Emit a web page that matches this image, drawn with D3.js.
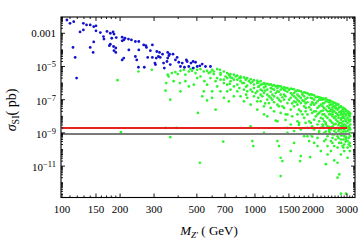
<!DOCTYPE html>
<html>
<head>
<meta charset="utf-8">
<script src="https://cdn.jsdelivr.net/npm/d3@7"></script>
<style>
body { margin: 0; background: #fff; }
svg { display: block; font-family: "Liberation Serif", "DejaVu Serif", serif; }
</style>
</head>
<body>
<script>
// [M_Z' (GeV), sigma_SI (pb)]
var bluePoints = [
	[106,6.3e-3],[110,4e-3],[115,5e-3],[129,4e-3],[134,3.2e-3],[140,3.2e-3],[146,2.5e-3],[150,2.8e-3],
	[129,1.6e-3],[124,1.2e-3],[150,1.4e-3],[158,1.1e-3],[171,1.3e-3],[178,1e-3],[186,9e-4],[184,1.2e-3],
	[164,6.3e-4],[165,4.5e-4],[181,5e-4],[191,5.5e-4],[205,5.8e-4],[209,4e-4],[212,5e-4],[221,4.5e-4],
	[205,3.5e-4],[178,2.2e-4],[176,1.8e-4],[185,1.6e-4],[190,1.3e-4],[186,9e-5],[146,3e-4],[140,1.4e-4],
	[145,7e-5],[114,1.4e-4],[117,3.5e-5],[119,2e-6],[222,1e-4],[240,3.2e-4],[250,3.2e-4],[272,1.8e-4],
	[274,1.4e-4],[294,2e-4],[310,8e-5],[320,7e-5],[332,5.5e-5],[353,7e-5],[361,5.5e-5],[250,1e-4],
	[240,4e-5],[244,2.5e-5],[249,9e-6],[267,9e-6],[278,3.5e-5],[294,3.5e-5],[303,1.6e-5],[305,1.3e-5],
	[308,3.2e-5],[323,3.5e-5],[336,1.6e-5],[339,8e-6],[353,3.2e-5],[358,4.5e-5],[376,5.5e-5],[364,1.3e-5],
	[387,2.5e-5],[395,3.5e-5],[403,1.8e-5],[411,1e-5],[431,9e-6],[445,2e-5],[441,2.5e-5],[466,1.6e-5],
	[478,2e-5],[492,1.8e-5],[478,8e-6],[502,1e-5],[518,1.1e-5],[533,1.4e-5],[554,1e-5],[588,1e-5],
	[209,3.2e-5],[205,2.5e-5],[190,7e-5],[229,4e-4],[265,2e-4],[287,9e-5],[316,4e-5],[350,2e-5],
	[420,1.6e-5],[454,1e-5]
];

var greenPoints = [
	[194,1.5e-6],[202,1.1e-9],[249,5e-6],[292,6.3e-6],[344,3.5e-7],[364,1e-7],[364,5.5e-10],[344,2e-9],
	[392,2e-9],[347,1e-6],[357,2.5e-6],[379,1.3e-6],[408,1e-6],[411,3.2e-7],[398,3.5e-6],[436,3.2e-6],
	[463,7e-6],[482,8e-6],[492,4e-6],[502,2e-6],[482,8e-7],[506,1.6e-8],[518,1.6e-11],[533,1.6e-7],
	[543,3.2e-7],[565,9e-8],[547,1.3e-6],[576,4e-6],[588,2e-6],[600,6.3e-6],[612,5e-6],[637,7e-6],
	[658,6.3e-6],[663,4e-6],[625,1.3e-6],[637,6.3e-7],[625,2.5e-8],[685,3e-10],[690,1.6e-6],[704,2.5e-6],
	[718,4e-6],[732,3.2e-6],[747,1.3e-6],[762,2e-6],[778,6.3e-7],[794,2.5e-6],[810,1.6e-6],[778,1.6e-7],
	[732,8e-8],[842,2e-6],[860,1e-6],[877,4e-7],[895,1.6e-6],[912,3.2e-7],[930,1.3e-6],[950,2.5e-9],
	[969,3.2e-10],[980,1.6e-10],[988,8e-7],[1008,2.5e-7],[1028,1e-6],[1049,6.3e-7],[1070,8e-7],[1070,8e-8],
	[1092,1.6e-7],[1114,1.3e-8],[1114,1e-9],[1136,6.3e-7],[1159,4e-7],[1183,6.3e-8],[1207,5e-7],[1231,2e-7],
	[1256,2e-8],[1281,5.5e-9],[1307,3.2e-10],[1333,1.6e-10],[1359,3.2e-11],[1387,2e-11],[1359,2.5e-12],[1256,4e-7],
	[1307,3.2e-7],[1333,1e-7],[1359,2e-7],[1387,4e-8],[1415,4e-7],[1444,1.3e-8],[1473,1e-9],[1533,8e-11],
	[1595,2.5e-10],[1595,2.5e-7],[1627,1.3e-7],[1660,1.3e-8],[1694,4e-9],[1714,2e-11],[1728,4e-11],[1763,2e-7],
	[1799,8e-8],[1835,3.2e-8],[1872,6.3e-10],[1910,3.2e-10],[1933,3.5e-11],[1948,1.3e-7],[1987,6.3e-8],[2027,2e-8],
	[2068,1e-8],[2110,1.6e-10],[2152,1.3e-9],[2195,1e-7],[2240,4e-8],[2285,1.3e-8],[2331,3.2e-9],[2378,8e-8],
	[2378,5e-11],[2426,1.6e-9],[2475,5e-8],[2525,1.3e-8],[2575,8e-10],[2627,3.2e-8],[2680,1.6e-11],[2734,3.2e-12],
	[2789,2e-8],[2846,8e-9],[2903,3.2e-9],[2962,4e-10],[3021,1.6e-8],[3045,2e-9],[3082,8e-10],[3021,3.2e-11],
	[2789,2.2e-13],[2962,2.2e-13],[2680,2e-12],[2575,2.2e-11],[2331,1.3e-11],
	// dense band under the upper edge
	[663,3.2e-6],[663,1.6e-6],[690,5e-6],[690,1e-6],[718,2e-6],[718,8e-7],[747,3.5e-6],[747,2.2e-6],
	[747,4e-7],[778,3.2e-6],[778,1.6e-6],[810,2.8e-6],[810,8e-7],[810,3.2e-7],[842,2.5e-6],[842,1.3e-6],
	[842,1.6e-7],[877,2.2e-6],[877,1e-6],[877,8e-8],[912,2e-6],[912,7e-7],[912,1.3e-7],[950,1.7e-6],
	[950,1e-6],[950,4e-7],[950,5e-8],[988,1.5e-6],[988,5e-7],[988,1.6e-7],[1028,1.4e-6],[1028,3.2e-7],
	[1028,8e-8],[1028,2.5e-8],[1070,1.3e-6],[1070,4e-7],[1070,2e-7],[1114,1e-6],[1114,5.5e-7],[1114,2.5e-7],
	[1114,4e-8],[1159,9e-7],[1159,2e-7],[1159,1e-7],[1159,1e-8],[1207,8.5e-7],[1207,3e-7],[1207,1.3e-7],
	[1207,3.2e-8],[1256,7.5e-7],[1256,1.6e-7],[1256,7e-8],[1307,6.8e-7],[1307,5e-7],[1307,1.3e-7],[1307,5e-8],
	[1307,5e-9],[1359,6.3e-7],[1359,4e-7],[1359,8e-8],[1359,1.6e-8],[1415,5.5e-7],[1415,2e-7],[1415,1e-7],
	[1415,3.2e-8],[1473,5e-7],[1473,3e-7],[1473,6.3e-8],[1473,1.3e-8],[1473,2e-9],[1533,4.6e-7],[1533,2.5e-7],
	[1533,1.3e-7],[1533,2.5e-8],[1533,3.2e-9],[1595,4.2e-7],[1595,1.6e-7],[1595,8e-8],[1595,4e-8],[1595,1.3e-9],
	[1660,3.6e-7],[1660,2e-7],[1660,1e-7],[1660,5e-8],[1660,5e-9],[1728,3.2e-7],[1728,1.3e-7],[1728,6.3e-8],
	[1728,2e-8],[1728,1.6e-9],[1799,2.8e-7],[1799,1.6e-7],[1799,4e-8],[1799,8e-9],[1799,6.3e-10],[1872,2.4e-7],
	[1872,1.3e-7],[1872,7e-8],[1872,1.3e-8],[1872,2e-9],[1948,2.1e-7],[1948,5e-8],[1948,2.5e-8],[1948,4e-9],
	[1948,8e-10],[2027,1.8e-7],[2027,1e-7],[2027,5e-8],[2027,6.3e-9],[2027,1.6e-9],[2027,2.5e-10],[2110,1.5e-7],
	[2110,8e-8],[2110,3.2e-8],[2110,1.3e-8],[2110,3.2e-9],[2110,5e-10],[2195,1.3e-7],[2195,5e-8],[2195,2e-8],
	[2195,8e-9],[2195,2e-9],[2195,8e-11],[2285,1.1e-7],[2285,6.3e-8],[2285,3.2e-8],[2285,5e-9],[2285,1e-9],
	[2285,3.2e-10],[2378,9.5e-8],[2378,4e-8],[2378,2e-8],[2378,8e-9],[2378,2.5e-9],[2378,6.3e-10],[2378,1.6e-10],
	[2475,8e-8],[2475,2.5e-8],[2475,1.3e-8],[2475,5e-9],[2475,1.6e-9],[2475,3.2e-10],[2475,8e-11],[2575,6.6e-8],
	[2575,4e-8],[2575,2e-8],[2575,8e-9],[2575,3.2e-9],[2575,1.3e-9],[2575,1.6e-10],[2680,5.2e-8],[2680,2.5e-8],
	[2680,1.3e-8],[2680,5e-9],[2680,2e-9],[2680,6.3e-10],[2680,1.3e-10],[2789,4e-8],[2789,1.3e-8],[2789,6.3e-9],
	[2789,2.5e-9],[2789,1e-9],[2789,4e-10],[2789,5e-11],[2903,2.9e-8],[2903,1.6e-8],[2903,8e-9],[2903,1.6e-9],
	[2903,6.3e-10],[2903,2e-10],[2903,8e-11],[3021,2e-8],[3021,8e-9],[3021,4e-9],[3021,1.3e-9],[3021,3.2e-10],
	[3021,1.3e-10],[3100,1.6e-8],[3100,1e-8],[3100,5e-9],[3100,2e-9],[3100,1e-9],[3100,2.5e-10],[3100,8e-11],
	[1092,8.5e-7],[1092,3.5e-7],[1183,8e-7],[1183,1.6e-7],[1281,6.3e-7],[1281,2.5e-7],[1387,5e-7],[1387,1.4e-7],
	[1503,4e-7],[1503,1e-7],[1627,3.2e-7],[1627,7e-8],[1763,2.5e-7],[1763,9e-8],[1763,1.3e-8],[1910,2e-7],
	[1910,3.5e-8],[1910,5e-9],[2068,1.4e-7],[2068,6.3e-8],[2068,2e-8],[2240,1e-7],[2240,1.3e-8],[2240,3.2e-9],
	[2426,7e-8],[2426,3.2e-8],[2426,1.3e-8],[2426,1.3e-9],[2525,5.2e-8],[2525,2.5e-8],[2525,2.5e-9],[2525,5e-10],
	[2627,4.4e-8],[2627,1.6e-8],[2627,6.3e-9],[2627,1e-9],[2734,3.5e-8],[2734,1.8e-8],[2734,4e-9],[2734,1.6e-9],
	[2734,2.5e-10],[2846,2.5e-8],[2846,1.3e-8],[2846,3.2e-9],[2846,8e-10],[2846,1.6e-10],[2962,2.1e-8],[2962,1.1e-8],
	[2962,5e-9],[2962,2.2e-9],[2962,5e-10],[3120,1.4e-8],[3120,6.3e-9],[3120,3.2e-9],[3120,1.6e-9],[3120,6.3e-10],
	[3120,1.6e-10],
	[740,2.8e-6],[740,9e-7],[830,2e-6],[830,5e-7],[900,1.8e-6],[900,6e-7],[900,2e-7],[970,1.2e-6],
	[970,3e-7],[1040,1.1e-6],[1040,6e-7],[1040,1.3e-7],[1130,9e-7],[1130,3.5e-7],[1130,6e-8],[1230,7e-7],
	[1230,4.5e-7],[1230,1e-7],[1330,6.5e-7],[1330,3e-7],[1330,4e-8],[1440,5.2e-7],[1440,3.5e-7],[1440,1.6e-7],
	[1440,6e-9],[1560,4.4e-7],[1560,2e-7],[1560,6e-8],[1560,1e-8],[1690,3.4e-7],[1690,1.6e-7],[1690,8e-8],
	[1690,2.5e-8],[1690,3e-9],[1830,2.6e-7],[1830,1.1e-7],[1830,6e-8],[1830,2e-8],[1830,4e-9],[1980,2e-7],
	[1980,1.2e-7],[1980,7e-8],[1980,1.6e-8],[1980,2.5e-9],[1980,6e-10],[2150,1.4e-7],[2150,1e-7],[2150,4e-8],
	[2150,1.6e-8],[2150,5e-9],[2150,1e-9],[2330,1.2e-7],[2330,8e-8],[2330,2.5e-8],[2330,1e-8],[2330,4e-9],
	[2330,1.2e-9],[2330,4e-10],[2520,7.5e-8],[2520,3.5e-8],[2520,1.8e-8],[2520,1e-8],[2520,4e-9],[2520,2e-9],
	[2520,8e-10],[2520,2.5e-10],[2710,5e-8],[2710,3e-8],[2710,1.1e-8],[2710,8e-9],[2710,3e-9],[2710,1.3e-9],
	[2710,5e-10],[2870,3.2e-8],[2870,2e-8],[2870,1e-8],[2870,5e-9],[2870,2.5e-9],[2870,1.2e-9],[2870,4e-10],
	[2870,1.3e-10],[3060,1.8e-8],[3060,1.2e-8],[3060,6e-9],[3060,2.5e-9],[3060,1.6e-9],[3060,5e-10],[3060,2e-10],
	[2440,9e-8],[2440,5e-8],[2440,2e-8],[2440,6e-9],[2440,2.2e-9],[2440,1e-9],[2620,6e-8],[2620,3e-8],
	[2620,1e-8],[2620,3.5e-9],[2620,1.8e-9],[2620,4e-10],[2800,3.5e-8],[2800,1.6e-8],[2800,8e-9],[2800,4e-9],
	[2800,1.6e-9],[2800,7e-10],[2800,2.5e-10],[2950,2.5e-8],[2950,1.3e-8],[2950,6.3e-9],[2950,3e-9],[2950,1.2e-9],
	[2950,6e-10],[2950,3e-10],[2250,1.2e-7],[2250,6e-8],[2250,2.2e-8],[2250,7e-9],[2250,2.5e-9],
	// green points just under the blue ones
	[353,3.2e-6],[371,4e-6],[387,4.6e-6],[411,5.5e-6],[428,6.3e-6],[454,5e-6],[472,5.5e-6],[502,6.3e-6],
	[522,7e-6],[543,5e-6],[565,5.5e-6],[588,4.6e-6],[612,3.5e-6],[436,1.3e-6],[454,6.3e-7],[522,2.5e-6],
	[565,8e-7],[600,3.2e-7],[637,2e-6],[663,3.2e-7],[690,1.3e-7],[718,3.2e-7],[600,1.3e-7]
];

var redLimit = 2e-9;
var grayLimit = 8.7e-10;
var limitRange = [100, 3000];

var xTicks = [100, 150, 200, 300, 500, 700, 1000, 1500, 2000, 3000];
var yTicks = [1e-3, 1e-5, 1e-7, 1e-9, 1e-11];
var yTickLabels = [["0.001", ""], ["10", "\u22125"], ["10", "\u22127"], ["10", "\u22129"], ["10", "\u221211"]];

var W = 360, H = 241;
// plot frame (window.top is taken, so prefix these)
var pLeft = 61, pRight = 355, pTop = 17, pBottom = 197.5;

var svg = d3.select("body").append("svg")
	.attr("width", W)
	.attr("height", H);

var x = d3.scaleLog().domain([98.8, 3300]).range([pLeft, pRight]);
var y = d3.scaleLog().domain([Math.pow(10, -12.89), Math.pow(10, -2.02)]).range([pBottom, pTop]);

// points
var plot = svg.append("g");
plot.selectAll("circle.g")
	.data(greenPoints)
	.enter().append("circle")
	.attr("class", "g")
	.attr("cx", function(d) { return x(d[0]); })
	.attr("cy", function(d) { return y(d[1]); })
	.attr("r", 1.35)
	.attr("fill", "#2ef52e");

plot.selectAll("circle.b")
	.data(bluePoints)
	.enter().append("circle")
	.attr("class", "b")
	.attr("cx", function(d) { return x(d[0]); })
	.attr("cy", function(d) { return y(d[1]); })
	.attr("r", 1.4)
	.attr("fill", "#1212cc");

// limit lines
svg.append("line")
	.attr("x1", x(limitRange[0])).attr("x2", x(limitRange[1]) + 3)
	.attr("y1", y(grayLimit)).attr("y2", y(grayLimit))
	.attr("stroke", "#7a7a7a").attr("stroke-width", 2);
svg.append("line")
	.attr("x1", x(limitRange[0])).attr("x2", x(limitRange[1]))
	.attr("y1", y(redLimit)).attr("y2", y(redLimit))
	.attr("stroke", "#e8201e").attr("stroke-width", 2);

// frame
svg.append("rect")
	.attr("x", pLeft).attr("y", pTop)
	.attr("width", pRight - pLeft).attr("height", pBottom - pTop)
	.attr("fill", "none").attr("stroke", "#000").attr("stroke-width", 1.1);

// minor tick values
var xMinor = d3.range(110, 200, 10)
	.concat(d3.range(200, 1000, 100))
	.concat(d3.range(1000, 3300, 100))
	.filter(function(v) { return xTicks.indexOf(v) < 0; });
var yMinor = [];
for (var k = -13; k <= -2; k++) {
	for (var m = 1; m <= 9; m++) {
		var v = m * Math.pow(10, k);
		if (v >= y.domain()[0] && v <= y.domain()[1] && !(m == 1 && Math.abs(k) % 2 == 1)) yMinor.push(v);
	}
}

var ticks = svg.append("g").attr("stroke", "#000").attr("stroke-width", 0.9);

function xTick(v, len) {
	ticks.append("line").attr("x1", x(v)).attr("x2", x(v)).attr("y1", pBottom).attr("y2", pBottom - len);
	ticks.append("line").attr("x1", x(v)).attr("x2", x(v)).attr("y1", pTop).attr("y2", pTop + len);
}
function yTick(v, len) {
	ticks.append("line").attr("y1", y(v)).attr("y2", y(v)).attr("x1", pLeft).attr("x2", pLeft + len);
	ticks.append("line").attr("y1", y(v)).attr("y2", y(v)).attr("x1", pRight).attr("x2", pRight - len);
}
xTicks.forEach(function(v) { xTick(v, 4); });
xMinor.forEach(function(v) { xTick(v, 2); });
yTicks.forEach(function(v) { yTick(v, 4); });
yMinor.forEach(function(v) { yTick(v, 2); });

// tick labels
svg.selectAll("text.xl")
	.data(xTicks)
	.enter().append("text")
	.attr("class", "xl")
	.attr("x", function(d) { return x(d); })
	.attr("y", 212.5)
	.attr("text-anchor", "middle")
	.attr("font-size", 11)
	.text(function(d) { return d; });

yTicks.forEach(function(v, i) {
	var lab = yTickLabels[i];
	var t = svg.append("text")
		.attr("x", 56)
		.attr("text-anchor", "end")
		.attr("font-size", 11);
	if (lab[1] == "") {
		t.attr("y", y(v) + 3.8).text(lab[0]);
	} else {
		t.attr("y", y(v) + 5);
		t.append("tspan").text(lab[0]);
		t.append("tspan").attr("dy", -4).attr("font-size", 8.5).text(lab[1]);
	}
});

// axis titles
var yt = svg.append("text")
	.attr("transform", "translate(16,110) rotate(-90)")
	.attr("text-anchor", "middle")
	.attr("font-size", 14);
yt.append("tspan").attr("font-style", "italic").text("\u03c3");
yt.append("tspan").attr("font-size", 10).attr("dy", 3).text("SI");
yt.append("tspan").attr("dy", -3).text("( pb)");

var xt = svg.append("text")
	.attr("x", 209).attr("y", 234.5)
	.attr("text-anchor", "middle")
	.attr("font-size", 13);
xt.append("tspan").attr("font-style", "italic").text("M");
xt.append("tspan").attr("font-size", 9).attr("font-style", "italic").attr("dy", 3).text("Z\u2032");
xt.append("tspan").attr("dy", -3).text(" ( GeV)");
</script>
</body>
</html>
